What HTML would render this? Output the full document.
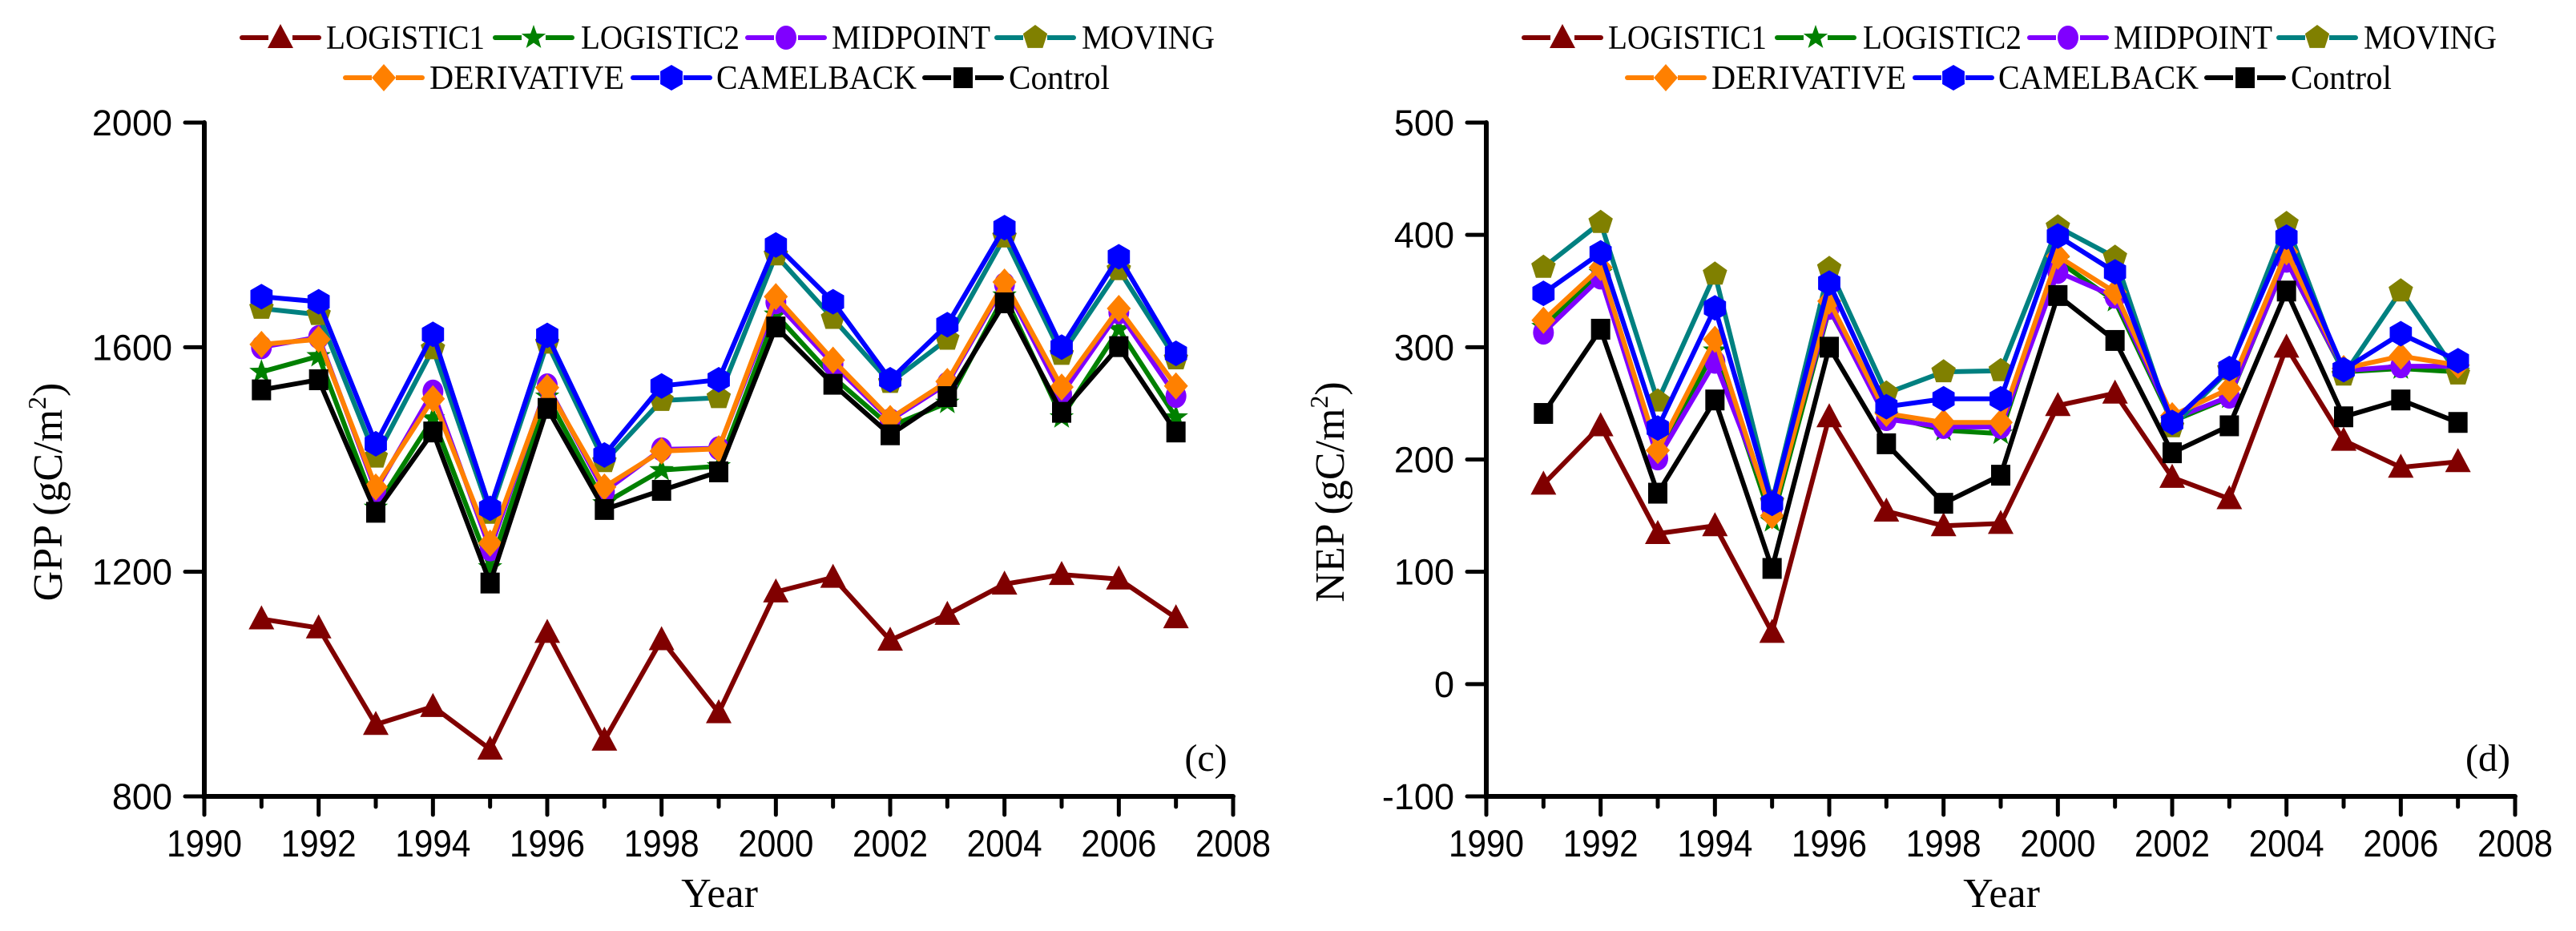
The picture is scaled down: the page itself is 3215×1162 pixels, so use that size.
<!DOCTYPE html>
<html><head><meta charset="utf-8"><style>
html,body{margin:0;padding:0;background:#fff;}
svg{display:block;}
</style></head><body>
<svg id="fig" xmlns="http://www.w3.org/2000/svg" width="3215" height="1162" viewBox="0 0 3215 1162"></svg>
<script>
const years=[1991,1992,1993,1994,1995,1996,1997,1998,1999,2000,2001,2002,2003,2004,2005,2006,2007];
const seriesNames=["LOGISTIC1","LOGISTIC2","MIDPOINT","MOVING","DERIVATIVE","CAMELBACK","Control"];
const gppL1=[1116,1100,928,960,884,1092,900,1079,949,1164,1190,1078,1124,1178,1195,1187,1118];
const gppL2=[1556,1584,1314,1473,1208,1512,1322,1381,1388,1658,1547,1459,1501,1692,1475,1632,1475];
const gppMid=[1600,1618,1345,1521,1240,1532,1343,1418,1420,1680,1570,1470,1535,1712,1516,1662,1513];
const gppMov=[1669,1658,1404,1597,1304,1607,1396,1505,1510,1764,1651,1537,1614,1796,1587,1738,1579];
const gppDer=[1605,1614,1351,1508,1251,1528,1351,1415,1419,1690,1577,1473,1539,1716,1529,1669,1531];
const gppCam=[1690,1681,1428,1623,1313,1621,1408,1531,1542,1782,1681,1542,1640,1813,1600,1761,1589];
const gppCtl=[1524,1542,1306,1449,1180,1491,1311,1345,1378,1636,1534,1444,1512,1679,1484,1601,1449];
const nepL1=[178,230,134,141,46,238,154,141,143,248,259,184,165,300,217,193,198];
const nepL2=[318,366,205,297,145,334,239,226,223,377,341,234,255,377,278,281,278];
const nepMid=[313,362,201,287,156,335,236,229,229,367,345,236,256,377,279,283,283];
const nepMov=[371,411,252,365,162,370,259,278,279,407,380,229,280,410,275,350,276];
const nepDer=[324,371,208,307,150,341,241,233,233,381,349,239,263,385,281,292,284];
const nepCam=[348,384,228,335,161,357,247,254,254,399,367,233,281,398,280,312,288];
const nepCtl=[241,316,170,253,103,300,214,161,186,346,306,206,230,350,238,253,233];
const xTicks=[1990,1992,1994,1996,1998,2000,2002,2004,2006,2008];
const gppTicks=[800,1200,1600,2000];
const nepTicks=[-100,0,100,200,300,400,500];

const NS="http://www.w3.org/2000/svg";
const svg=document.getElementById('fig');
function mk(tag,attrs,parent){const e=document.createElementNS(NS,tag);for(const k in attrs)e.setAttribute(k,attrs[k]);(parent||svg).appendChild(e);return e;}
const styles=[
 {line:"#800000",fill:"#800000",shape:"tri"},
 {line:"#008000",fill:"#008000",shape:"star"},
 {line:"#8000ff",fill:"#8000ff",shape:"circ"},
 {line:"#008080",fill:"#808000",shape:"pent"},
 {line:"#ff8000",fill:"#ff8000",shape:"dia"},
 {line:"#0000ff",fill:"#0000ff",shape:"hex"},
 {line:"#000000",fill:"#000000",shape:"sq"}];
function poly(n,r,rot,cx,cy){let p=[];for(let i=0;i<n;i++){const a=rot+i*2*Math.PI/n;p.push((cx+r*Math.cos(a)).toFixed(1)+","+(cy+r*Math.sin(a)).toFixed(1));}return p.join(" ");}
function marker(g,shape,fill,cx,cy){
 let e;
 if(shape==="tri")e=mk('polygon',{points:`${cx},${cy-17} ${cx+16},${cy+13} ${cx-16},${cy+13}`,fill},g);
 else if(shape==="star"){let p=[];for(let i=0;i<10;i++){const r=i%2?6.5:16;const a=-Math.PI/2+i*Math.PI/5;p.push((cx+r*Math.cos(a)).toFixed(1)+","+(cy+r*Math.sin(a)).toFixed(1));}e=mk('polygon',{points:p.join(" "),fill},g);}
 else if(shape==="circ")e=mk('ellipse',{cx,cy,rx:13,ry:15,fill},g);
 else if(shape==="pent")e=mk('polygon',{points:poly(5,16,-Math.PI/2,cx,cy),fill},g);
 else if(shape==="dia")e=mk('polygon',{points:`${cx},${cy-17} ${cx+15},${cy} ${cx},${cy+17} ${cx-15},${cy}`,fill},g);
 else if(shape==="hex")e=mk('polygon',{points:poly(6,16,-Math.PI/2,cx,cy),fill},g);
 else e=mk('rect',{x:cx-12,y:cy-13,width:24,height:26,fill},g);
 return e;
}
function panel(ox,yMin,yMax,yTicks,data,title,tag,pname){
 const g=mk('g',{});
 
 
 const x0=ox,x1=ox+1284,yb=994,yt=153;
 const X=v=>x0+(v-1990)/18*(x1-x0);
 const Y=v=>yb-(v-yMin)/(yMax-yMin)*(yb-yt);
 const ax=mk('path',{d:`M${x0},${yt} V${yb} H${x1}`,stroke:"#000","stroke-width":6,fill:"none","stroke-linecap":"round"},g);
 
 
 for(let y=1991;y<=2008;y++){const maj=(y%2===0);mk('line',{x1:X(y),y1:yb,x2:X(y),y2:yb+(maj?23:13),stroke:"#000","stroke-width":5,"stroke-linecap":"round"},g);}
 mk('line',{x1:x0,y1:yb,x2:x0,y2:yb+23,stroke:"#000","stroke-width":5,"stroke-linecap":"round"},g);
 xTicks.forEach(t=>{const tx=mk('text',{x:X(t),y:1069,"text-anchor":"middle","font-family":"Liberation Sans, sans-serif","font-size":47,textLength:94,lengthAdjust:"spacingAndGlyphs"},g);tx.textContent=t;
  
  });
 yTicks.forEach(t=>{mk('line',{x1:x0-24,y1:Y(t),x2:x0,y2:Y(t),stroke:"#000","stroke-width":5,"stroke-linecap":"round"},g);
  const tx=mk('text',{x:x0-40,y:Y(t)+16,"text-anchor":"end","font-family":"Liberation Sans, sans-serif","font-size":45},g);tx.textContent=t;
  
  });
 const xt=mk('text',{x:x0+643,y:1132,"text-anchor":"middle","font-family":"Liberation Serif, serif","font-size":52},g);xt.textContent="Year";
 
 
 const yt2=mk('text',{x:0,y:0,transform:`translate(${x0-178},614) rotate(-90)`,"text-anchor":"middle","font-family":"Liberation Serif, serif","font-size":52},g);
 yt2.innerHTML=title+' (gC/m<tspan dy="-20" font-size="32">2</tspan><tspan dy="20">)</tspan>';
 
 
 const pl=mk('text',{x:x0+1250,y:962,"text-anchor":"middle","font-family":"Liberation Serif, serif","font-size":48},g);pl.textContent=tag;
 
 
 data.forEach((vals,i)=>{
  const s=styles[i];
  const sg=mk('g',{},g);
  
  
  mk('polyline',{points:vals.map((v,j)=>X(years[j])+","+Y(v)).join(" "),fill:"none",stroke:s.line,"stroke-width":6,"stroke-linejoin":"round"},sg);
  vals.forEach((v,j)=>{const m=marker(sg,s.shape,s.fill,X(years[j]),Y(v));
   
   });
 });
 const lg=mk('g',{},g);
 
 
 const off=ox-255;
 const ent=[[302,407,605,47],[618,725,923,47],[933,1038,1236,47],[1244,1350,1516,47],[431,536,779,97],[790,894,1144,97],[1154,1259,1385,97]];
 ent.forEach((e,i)=>{
  const s=styles[i];const ls=e[0]+off,tx0=e[1]+off,tx1=e[2]+off,cy=e[3];
  const eg=mk('g',{},lg);
  
  
  mk('line',{x1:ls,y1:cy,x2:ls+96,y2:cy,stroke:s.line,"stroke-width":6,"stroke-linecap":"round"},eg);
  mk('rect',{x:ls+33,y:cy-4,width:30,height:8,fill:"#fff"},eg);
  marker(eg,s.shape,s.fill,ls+48,cy);
  const t=mk('text',{x:tx0,y:cy+14,"font-family":"Liberation Serif, serif","font-size":42,textLength:tx1-tx0,lengthAdjust:"spacingAndGlyphs"},eg);t.textContent=seriesNames[i];
 });
}
panel(255,800,2000,gppTicks,[gppL1,gppL2,gppMid,gppMov,gppDer,gppCam,gppCtl],"GPP","(c)","gpp-panel");
panel(1855,-100,500,nepTicks,[nepL1,nepL2,nepMid,nepMov,nepDer,nepCam,nepCtl],"NEP","(d)","nep-panel");
</script>
</body></html>
